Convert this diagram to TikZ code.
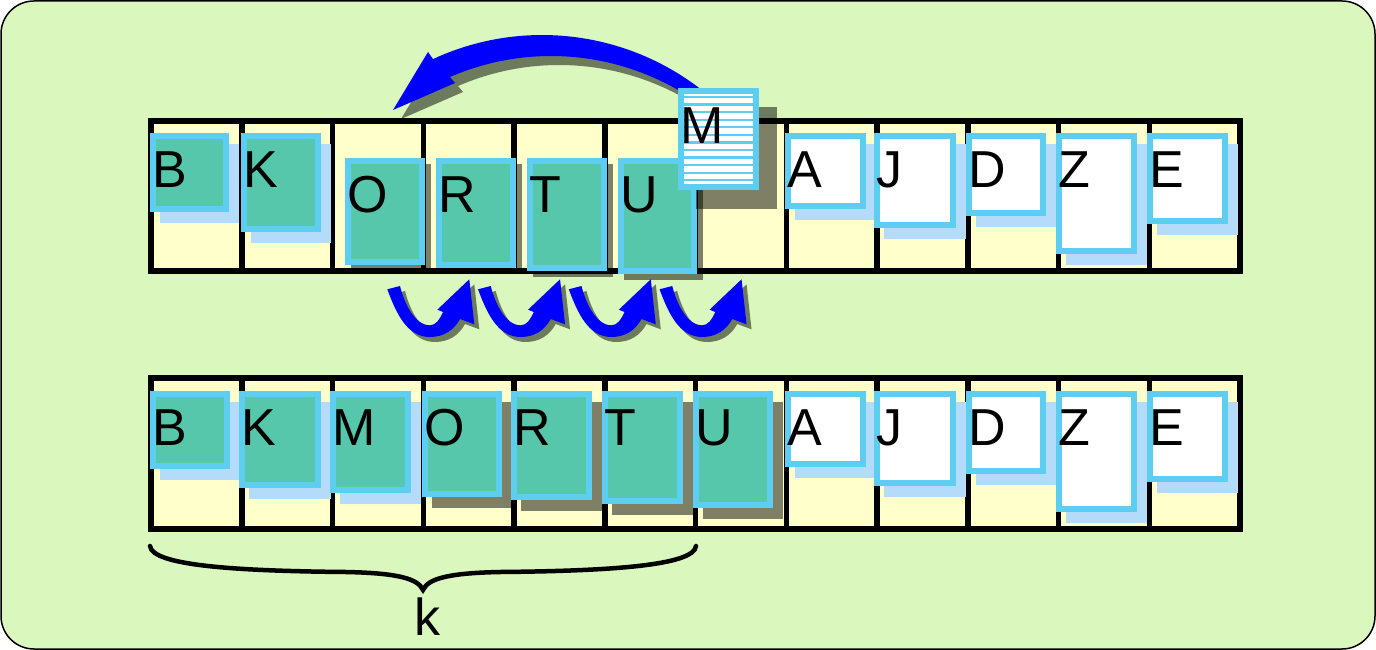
\documentclass[tikz,border=0pt]{standalone}
\usepackage{fontspec}
\setmainfont{Liberation Sans}
\definecolor{bggreen}{HTML}{DAF7BD}
\definecolor{cellyellow}{HTML}{FFFFCC}
\definecolor{cardteal}{HTML}{56C7AA}
\definecolor{cardblue}{HTML}{5DCDF2}
\definecolor{lightshadow}{HTML}{B4DCFA}
\definecolor{arrowblue}{HTML}{0000FF}
\tikzset{
  gridline/.style={line width=5.5pt, draw=black},
  cardframe/.style={draw=cardblue, line width=6pt},
  tealcard/.style={fill=cardteal},
  whitecard/.style={fill=white},
  lightsh/.style={fill=lightshadow, shift={(10,11)}},
  darksh/.style={fill=black, fill opacity=0.5, shift={(10,11)}},
  darkshsmall/.style={fill=black, fill opacity=0.5, shift={(6,6)}},
  darkshbig/.style={fill=black, fill opacity=0.5, shift={(18,19)}},
  letterstyle/.style={font=\fontsize{52}{60}\selectfont, inner sep=0pt, anchor=base west, text=black},
  arrowfill/.style={fill=arrowblue},
  arrowshadow/.style={fill=black, fill opacity=0.5},
  bracestyle/.style={draw=black, line width=4.5pt, line cap=round},
}
\newcommand\drawcard[8]{%
  \fill[#7] (#2,#3) rectangle (#4,#5);
  \path[cardframe,#6] ({#2+3},{#3+3}) rectangle ({#4-3},{#5-3});
  \node[letterstyle] (#1) at ({#2+2},{#3+54}) {#8};
}
\def\bigarrowpath{plot[domain=50:114.86, samples=60] ({542.1+259.5*cos(\x)},{294.5-259.5*sin(\x)}) -- (428,52) -- (393,110) -- (455,83) -- plot[domain=113.46:55, samples=60] ({551.1+253.9*cos(\x)},{309.9-253.9*sin(\x)}) -- cycle}
\def\smallarrowpath{(387.3,289.3) .. controls (396.4,313.7) and (407,337) .. (430,337) .. controls (444,337) and (454,330) .. (460,319) -- (474.3,324.3) -- (469.3,279.3) -- (437.3,309.7) -- (443,312) .. controls (440,319) and (436,325.3) .. (430,325.3) .. controls (414,325.3) and (404,302) .. (400,286) -- cycle}
\begin{document}
\begin{tikzpicture}[x=1pt,y=-1pt]
\useasboundingbox (0,0) rectangle (1376,650);
% background
\filldraw[fill=bggreen, draw=black, line width=1.5pt, rounded corners=33pt] (1,1) rectangle (1375,649);
% arrays
\foreach \yt/\yb in {121/271, 378/529} {
  \fill[cellyellow] (151,\yt) rectangle (1240,\yb);
  \foreach \i in {1,...,11} \draw[gridline] ({151+90.75*\i},\yt) -- ({151+90.75*\i},\yb);
  \draw[gridline] (151,\yt) rectangle (1240,\yb);
}
% top row
\drawcard{tB}{150}{133}{229}{212}{tealcard}{lightsh}{B}
\drawcard{tK}{241}{133}{321}{232}{tealcard}{lightsh}{K}
\drawcard{tO}{345}{158}{425}{265}{tealcard}{darkshsmall}{O}
\drawcard{tR}{436}{158}{516}{268}{tealcard}{darkshsmall}{R}
\drawcard{tT}{527}{158}{607}{271}{tealcard}{darkshsmall}{T}
\drawcard{tU}{618}{158}{697}{274}{tealcard}{darkshsmall}{U}
\drawcard{tA}{785}{133}{866}{209}{whitecard}{lightsh}{A}
\drawcard{tJ}{874}{133}{956}{228}{whitecard}{lightsh}{J}
\drawcard{tD}{966}{133}{1046}{216}{whitecard}{lightsh}{D}
\drawcard{tZ}{1056}{133}{1137}{254}{whitecard}{lightsh}{Z}
\drawcard{tE}{1147}{133}{1228}{224}{whitecard}{lightsh}{E}
% big arrow
\fill[arrowshadow, shift={(8,9)}] \bigarrowpath;
\fill[arrowfill] \bigarrowpath;
% moving card M
\fill[darkshbig] (678,88) rectangle (759,190);
\path[cardframe, whitecard] (681,91) rectangle (756,187);
\foreach \k in {0,...,11} \draw[cardblue, line width=2.2pt] (684,{97+7.57*\k}) -- (753,{97+7.57*\k});
\node[letterstyle] (tM) at (680,143) {M};
% small arrows
\foreach \i in {0,...,3} {
  \fill[arrowshadow, shift={({90.75*\i+5},5)}] \smallarrowpath;
  \fill[arrowfill, shift={({90.75*\i},0)}] \smallarrowpath;
}
% bottom row
\drawcard{bB}{150}{391}{230}{469}{tealcard}{lightsh}{B}
\drawcard{bK}{239}{391}{321}{488}{tealcard}{lightsh}{K}
\drawcard{bM}{330}{391}{411}{493}{tealcard}{lightsh}{M}
\drawcard{bO}{422}{391}{502}{497}{tealcard}{darksh}{O}
\drawcard{bR}{511}{391}{592}{500}{tealcard}{darksh}{R}
\drawcard{bT}{602}{391}{683}{504}{tealcard}{darksh}{T}
\drawcard{bU}{693}{391}{773}{508}{tealcard}{darksh}{U}
\drawcard{bA}{785}{391}{866}{467}{whitecard}{lightsh}{A}
\drawcard{bJ}{874}{391}{956}{486}{whitecard}{lightsh}{J}
\drawcard{bD}{966}{391}{1046}{474}{whitecard}{lightsh}{D}
\drawcard{bZ}{1056}{391}{1137}{512}{whitecard}{lightsh}{Z}
\drawcard{bE}{1147}{391}{1228}{482}{whitecard}{lightsh}{E}
% brace and label
\coordinate (braceL) at (150,546);
\coordinate (braceM) at (423,590);
\coordinate (braceR) at (696,546);
\draw[bracestyle] (braceL) .. controls (152,566) and (240,571) .. (346,572) .. controls (395,573) and (418,578) .. (braceM) .. controls (428,578) and (451,573) .. (500,572) .. controls (606,571) and (694,566) .. (braceR);
\node[font=\fontsize{52}{60}\selectfont, inner sep=0pt, anchor=base] (klabel) at (427.5,635) {k};
\end{tikzpicture}
\end{document}
